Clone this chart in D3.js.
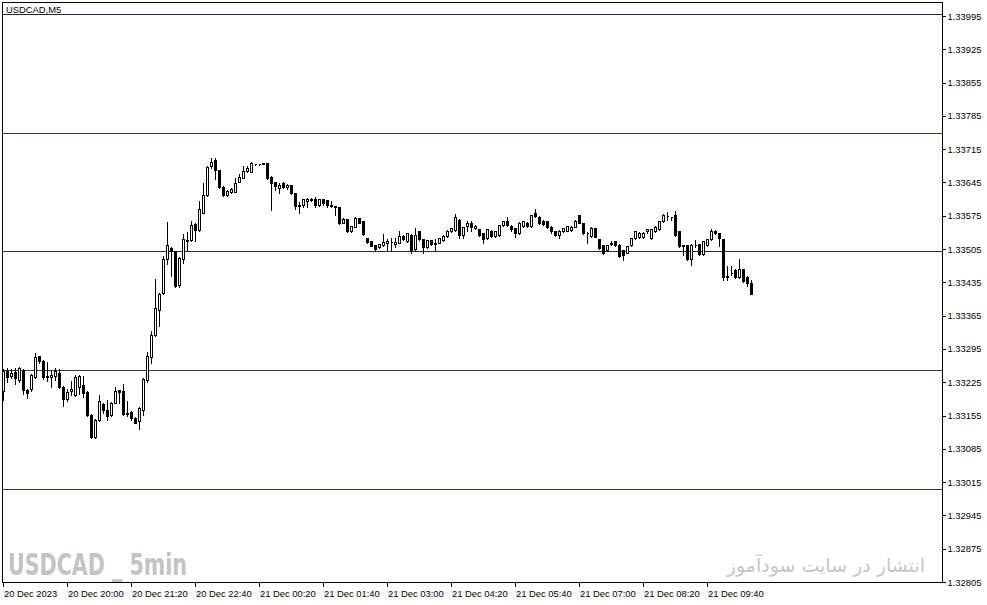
<!DOCTYPE html>
<html>
<head>
<meta charset="utf-8">
<script src="https://cdn.jsdelivr.net/npm/d3@7"></script>
<style>
  html, body { margin: 0; padding: 0; background: #fff; }
  svg { display: block; }
</style>
</head>
<body>
<svg id="chart" width="987" height="605"></svg>
<script>
// ---------------- DATA ----------------
const symbolTitle = "USDCAD,M5";
const watermarkLeft = "USDCAD _ 5min";
const watermarkRight = "انتشار در سایت سودآموز";

const openP = [
1.33207,1.33248,1.33239,1.33247,1.33230,1.33250,1.33208,1.33211,1.33237,1.33281,
1.33270,1.33239,1.33235,1.33239,1.33245,1.33216,1.33190,1.33206,1.33199,1.33216,
1.33220,1.33205,1.33157,1.33110,1.33146,1.33180,1.33166,1.33156,1.33182,1.33208,
1.33207,1.33161,1.33162,1.33150,1.33143,1.33167,1.33230,1.33278,1.33325,1.33377,
1.33413,1.33484,1.33507,1.33500,1.33430,1.33484,1.33522,1.33524,1.33558,1.33545,
1.33581,1.33619,1.33680,1.33692,1.33671,1.33636,1.33619,1.33626,1.33626,1.33646,
1.33655,1.33670,1.33668,1.33683,1.33683,1.33684,1.33685,1.33657,1.33645,1.33634,
1.33644,1.33635,1.33639,1.33622,1.33596,1.33598,1.33605,1.33610,1.33610,1.33598,
1.33610,1.33608,1.33598,1.33596,1.33594,1.33560,1.33568,1.33542,1.33552,1.33570,
1.33563,1.33529,1.33521,1.33514,1.33509,1.33514,1.33518,1.33520,1.33516,1.33518,
1.33533,1.33521,1.33535,1.33505,1.33542,1.33526,1.33510,1.33523,1.33518,1.33518,
1.33523,1.33533,1.33542,1.33545,1.33566,1.33535,1.33554,1.33560,1.33549,1.33547,
1.33538,1.33528,1.33544,1.33533,1.33535,1.33556,1.33563,1.33554,1.33549,1.33538,
1.33554,1.33560,1.33554,1.33581,1.33572,1.33565,1.33563,1.33552,1.33542,1.33535,
1.33542,1.33544,1.33545,1.33552,1.33577,1.33560,1.33539,1.33533,1.33549,1.33526,
1.33514,1.33502,1.33516,1.33521,1.33514,1.33503,1.33497,1.33514,1.33528,1.33530,
1.33530,1.33542,1.33528,1.33542,1.33547,1.33563,1.33575,1.33573,1.33577,1.33542,
1.33514,1.33514,1.33484,1.33514,1.33516,1.33495,1.33514,1.33526,1.33542,1.33538,
1.33526,1.33449,1.33455,1.33460,1.33446,1.33463,1.33446,1.33433];

const highP = [
1.33255,1.33257,1.33255,1.33256,1.33260,1.33255,1.33213,1.33245,1.33288,1.33283,
1.33274,1.33269,1.33251,1.33258,1.33255,1.33220,1.33213,1.33230,1.33243,1.33243,
1.33241,1.33209,1.33161,1.33150,1.33201,1.33184,1.33190,1.33185,1.33218,1.33211,
1.33224,1.33188,1.33166,1.33155,1.33175,1.33236,1.33290,1.33335,1.33444,1.33415,
1.33493,1.33563,1.33512,1.33503,1.33491,1.33539,1.33544,1.33566,1.33562,1.33608,
1.33647,1.33682,1.33699,1.33699,1.33673,1.33640,1.33631,1.33636,1.33657,1.33664,
1.33682,1.33682,1.33690,1.33684,1.33684,1.33688,1.33689,1.33661,1.33648,1.33647,
1.33648,1.33644,1.33642,1.33625,1.33607,1.33612,1.33614,1.33615,1.33617,1.33612,
1.33612,1.33610,1.33608,1.33598,1.33596,1.33573,1.33570,1.33556,1.33575,1.33572,
1.33564,1.33531,1.33522,1.33516,1.33518,1.33538,1.33528,1.33530,1.33531,1.33545,
1.33537,1.33539,1.33539,1.33552,1.33545,1.33528,1.33525,1.33526,1.33528,1.33530,
1.33537,1.33547,1.33551,1.33581,1.33570,1.33554,1.33566,1.33566,1.33558,1.33549,
1.33541,1.33549,1.33547,1.33545,1.33558,1.33566,1.33575,1.33558,1.33551,1.33564,
1.33566,1.33564,1.33579,1.33591,1.33577,1.33568,1.33566,1.33556,1.33545,1.33547,
1.33551,1.33556,1.33556,1.33568,1.33579,1.33562,1.33543,1.33554,1.33551,1.33528,
1.33516,1.33516,1.33524,1.33522,1.33517,1.33505,1.33514,1.33530,1.33545,1.33543,
1.33543,1.33549,1.33549,1.33556,1.33566,1.33581,1.33584,1.33575,1.33587,1.33543,
1.33516,1.33516,1.33518,1.33526,1.33518,1.33524,1.33528,1.33549,1.33547,1.33541,
1.33528,1.33472,1.33472,1.33465,1.33486,1.33465,1.33451,1.33442];

const lowP = [
1.33188,1.33226,1.33234,1.33222,1.33226,1.33201,1.33192,1.33206,1.33234,1.33266,
1.33232,1.33227,1.33216,1.33230,1.33213,1.33174,1.33186,1.33199,1.33197,1.33201,
1.33195,1.33155,1.33108,1.33108,1.33144,1.33161,1.33145,1.33153,1.33182,1.33182,
1.33157,1.33155,1.33146,1.33139,1.33127,1.33157,1.33226,1.33266,1.33323,1.33344,
1.33411,1.33474,1.33449,1.33425,1.33425,1.33476,1.33503,1.33522,1.33521,1.33543,
1.33581,1.33617,1.33675,1.33652,1.33633,1.33617,1.33617,1.33622,1.33625,1.33646,
1.33654,1.33668,1.33667,1.33682,1.33682,1.33684,1.33652,1.33587,1.33629,1.33622,
1.33633,1.33631,1.33621,1.33589,1.33581,1.33594,1.33594,1.33607,1.33594,1.33596,
1.33598,1.33594,1.33593,1.33577,1.33557,1.33559,1.33541,1.33540,1.33551,1.33559,
1.33535,1.33518,1.33511,1.33502,1.33507,1.33512,1.33503,1.33503,1.33510,1.33518,
1.33524,1.33520,1.33497,1.33503,1.33524,1.33497,1.33508,1.33514,1.33500,1.33517,
1.33521,1.33530,1.33540,1.33543,1.33528,1.33528,1.33542,1.33542,1.33548,1.33533,
1.33517,1.33526,1.33530,1.33530,1.33533,1.33554,1.33554,1.33543,1.33531,1.33537,
1.33551,1.33551,1.33551,1.33572,1.33558,1.33556,1.33549,1.33539,1.33533,1.33528,
1.33540,1.33542,1.33543,1.33551,1.33559,1.33537,1.33518,1.33530,1.33530,1.33505,
1.33495,1.33500,1.33514,1.33512,1.33488,1.33481,1.33496,1.33512,1.33526,1.33528,
1.33528,1.33539,1.33526,1.33540,1.33545,1.33561,1.33566,1.33566,1.33533,1.33509,
1.33493,1.33482,1.33472,1.33510,1.33493,1.33493,1.33512,1.33524,1.33537,1.33512,
1.33440,1.33440,1.33451,1.33444,1.33444,1.33435,1.33428,1.33411];

const closeP = [
1.33249,1.33237,1.33245,1.33234,1.33255,1.33208,1.33202,1.33241,1.33279,1.33269,
1.33235,1.33237,1.33241,1.33249,1.33216,1.33190,1.33205,1.33211,1.33237,1.33239,
1.33202,1.33157,1.33110,1.33146,1.33185,1.33167,1.33155,1.33182,1.33207,1.33204,
1.33159,1.33159,1.33150,1.33140,1.33171,1.33232,1.33280,1.33325,1.33381,1.33411,
1.33484,1.33514,1.33500,1.33428,1.33486,1.33526,1.33525,1.33556,1.33545,1.33589,
1.33619,1.33677,1.33689,1.33671,1.33636,1.33619,1.33628,1.33631,1.33644,1.33656,
1.33670,1.33675,1.33686,1.33683,1.33683,1.33685,1.33654,1.33643,1.33638,1.33640,
1.33635,1.33640,1.33623,1.33596,1.33598,1.33610,1.33610,1.33609,1.33598,1.33610,
1.33601,1.33598,1.33596,1.33594,1.33560,1.33568,1.33544,1.33554,1.33571,1.33560,
1.33537,1.33519,1.33512,1.33505,1.33516,1.33520,1.33521,1.33520,1.33520,1.33533,
1.33526,1.33538,1.33502,1.33535,1.33526,1.33509,1.33523,1.33516,1.33516,1.33528,
1.33533,1.33544,1.33549,1.33572,1.33535,1.33551,1.33560,1.33552,1.33554,1.33535,
1.33526,1.33547,1.33533,1.33542,1.33556,1.33563,1.33556,1.33547,1.33538,1.33560,
1.33563,1.33554,1.33577,1.33575,1.33560,1.33558,1.33552,1.33542,1.33535,1.33544,
1.33549,1.33554,1.33552,1.33563,1.33560,1.33539,1.33538,1.33549,1.33531,1.33507,
1.33497,1.33514,1.33518,1.33514,1.33491,1.33493,1.33512,1.33528,1.33542,1.33539,
1.33539,1.33547,1.33547,1.33552,1.33563,1.33577,1.33575,1.33573,1.33535,1.33512,
1.33512,1.33484,1.33514,1.33514,1.33495,1.33521,1.33526,1.33544,1.33538,1.33528,
1.33446,1.33446,1.33455,1.33446,1.33463,1.33437,1.33433,1.33411];

// price axis labels
const yTickValues = [1.33995,1.33925,1.33855,1.33785,1.33715,1.33645,1.33575,1.33505,
  1.33435,1.33365,1.33295,1.33225,1.33155,1.33085,1.33015,1.32945,1.32875,1.32805];

// time axis labels and the bar each one sits on
const xTickLabels = ["20 Dec 2023","20 Dec 20:00","20 Dec 21:20","20 Dec 22:40",
  "21 Dec 00:20","21 Dec 01:40","21 Dec 03:00","21 Dec 04:20","21 Dec 05:40",
  "21 Dec 07:00","21 Dec 08:20","21 Dec 09:40"];
const xTickBars = [0,16,32,48,64,80,96,112,128,144,160,176];

// horizontal price levels drawn on the chart
const levelPrices = [1.3400, 1.3375, 1.3350, 1.3325, 1.3300];

// ---------------- DRAW ----------------
const levelColors = ["#23235a", "#4a3a18", "#143c14", "#4a3a18", "#2e2a6e"];
const svg = d3.select("#chart");
const frame = {left: 2.5, top: 2.5, right: 942.5, bottom: 582.5};
const font = "'Liberation Sans', Arial, sans-serif";

const candles = openP.map((o, i) => ({i, o, h: highP[i], l: lowP[i], c: closeP[i]}));

const x = d3.scaleLinear().domain([0, candles.length - 1]).range([3.5, 3.5 + 4 * (candles.length - 1)]);
const y = d3.scaleLinear().domain([1.32805, 1.33995]).range([582, 16]);
const py = v => Math.round(y(v)) + 0.5;

svg.append("rect").attr("width", 987).attr("height", 605).attr("fill", "#fff");

// watermarks
svg.append("text")
  .attr("x", 8).attr("y", 575)
  .attr("font-family", "'Liberation Sans Narrow', 'DejaVu Sans Condensed', 'Liberation Sans', sans-serif")
  .attr("font-weight", "bold").attr("font-size", 29.5)
  .attr("fill", "#c3c3c3")
  .attr("textLength", 179).attr("lengthAdjust", "spacingAndGlyphs")
  .text(watermarkLeft);

svg.append("text")
  .attr("x", 925).attr("y", 572)
  .attr("direction", "rtl")
  .attr("text-anchor", "start")
  .attr("font-family", "'DejaVu Sans', 'Noto Sans', sans-serif")
  .attr("font-size", 19)
  .attr("fill", "#c6c6c6")
  .text(watermarkRight);

// levels
svg.append("g").selectAll("line").data(levelPrices).join("line")
  .attr("x1", frame.left).attr("x2", frame.right)
  .attr("y1", d => py(d)).attr("y2", d => py(d))
  .attr("stroke", (d, i) => levelColors[i]).attr("stroke-width", 1);

// candles
const cg = svg.append("g").attr("shape-rendering", "crispEdges");
cg.selectAll("line.wick").data(candles).join("line").attr("class", "wick")
  .attr("x1", d => x(d.i)).attr("x2", d => x(d.i))
  .attr("y1", d => py(d.h)).attr("y2", d => py(d.l) + 0.5)
  .attr("stroke", "#000").attr("stroke-width", 1);
cg.selectAll("path.body").data(candles).join("path").attr("class", "body")
  .attr("d", d => {
    const x0 = x(d.i) - 1, x1 = x(d.i) + 1;
    const yt = py(Math.max(d.o, d.c)), yb = py(Math.min(d.o, d.c));
    return `M${x0},${yt}H${x1}V${yb}H${x0}Z`;
  })
  .attr("fill", d => d.c >= d.o ? "#fff" : "#000")
  .attr("stroke", "#000").attr("stroke-width", 1);

// frame
svg.append("rect")
  .attr("x", frame.left).attr("y", frame.top)
  .attr("width", frame.right - frame.left).attr("height", frame.bottom - frame.top)
  .attr("fill", "none").attr("stroke", "#000").attr("shape-rendering", "crispEdges");

// title
svg.append("text").attr("x", 6).attr("y", 12.5)
  .attr("font-family", font).attr("font-size", 9.4).attr("fill", "#000")
  .text(symbolTitle);

// y axis
const yAxis = d3.axisRight(y).tickValues(yTickValues).tickFormat(d3.format(".5f"))
  .tickSize(3).tickPadding(2);
const yg = svg.append("g").attr("transform", `translate(${frame.right},0)`).call(yAxis);
yg.select(".domain").remove();
yg.selectAll(".tick line").attr("stroke", "#000").attr("shape-rendering", "crispEdges");
yg.selectAll(".tick text").attr("font-family", font).attr("font-size", 9.4).attr("fill", "#000");

// x axis
const xg = svg.append("g");
const xt = xg.selectAll("g").data(xTickBars).join("g")
  .attr("transform", d => `translate(${x(d)},${frame.bottom})`);
xt.append("line").attr("y1", 0).attr("y2", 4).attr("stroke", "#000").attr("shape-rendering", "crispEdges");
xt.append("text").attr("x", 0.5).attr("y", 14.3)
  .attr("font-family", font).attr("font-size", 9.4).attr("fill", "#000")
  .text((d, i) => xTickLabels[i]);
</script>
</body>
</html>
